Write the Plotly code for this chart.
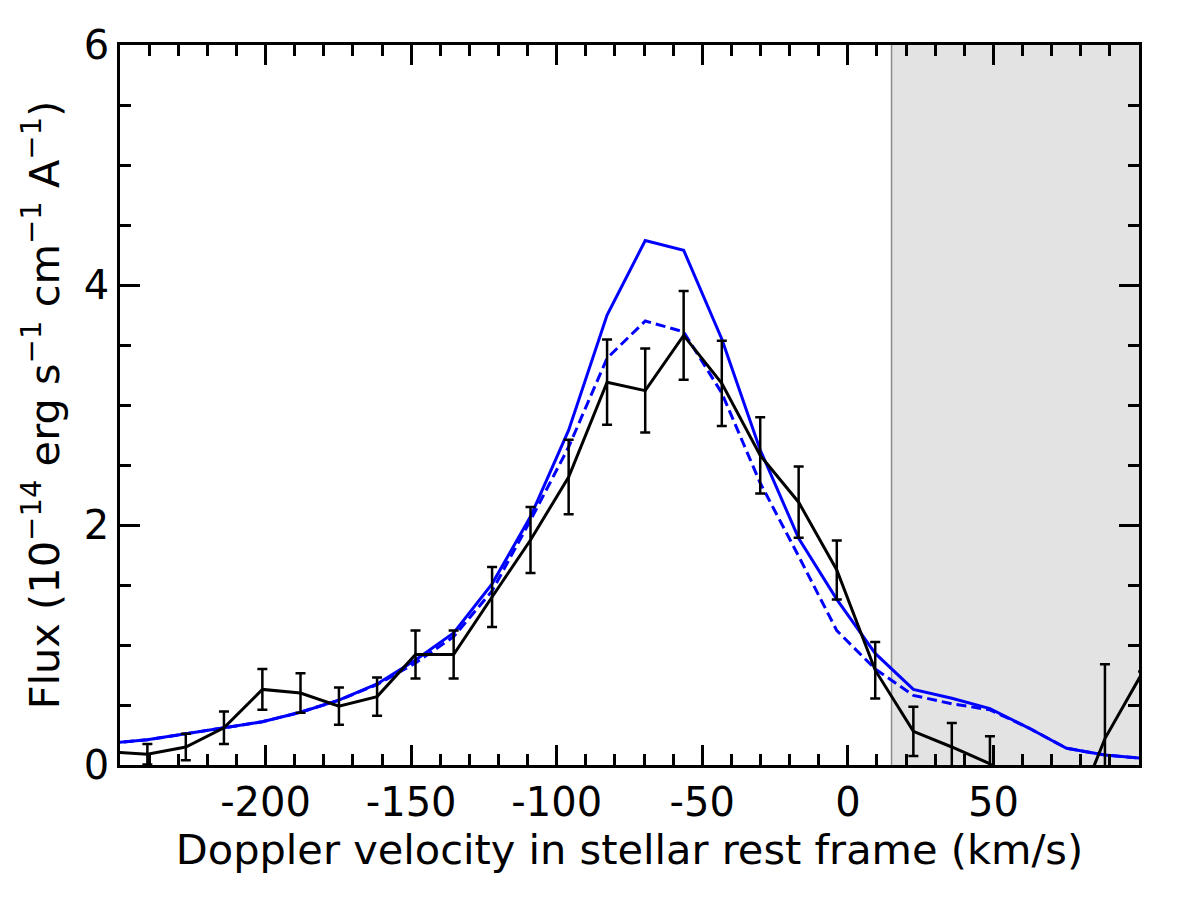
import plotly.graph_objects as go

# ---- data ----
velocity = [-253.8, -240.6, -227.4, -214.3, -201.1, -188.0, -174.8, -161.7, -148.5, -135.4,
            -122.2, -109.0, -95.9, -82.7, -69.6, -56.4, -43.3, -30.1, -16.9, -3.8,
            9.4, 22.5, 35.7, 48.8, 62.0, 75.1, 88.3, 101.4]
flux_obs = [0.11, 0.09, 0.15, 0.31, 0.63, 0.60, 0.49, 0.57, 0.92, 0.92,
            1.40, 1.875, 2.40, 3.19, 3.12, 3.58, 3.18, 2.58, 2.19, 1.625,
            0.79, 0.28, 0.15, 0.01, -0.35, -0.58, 0.22, 0.78]
flux_err = [0.0, 0.085, 0.11, 0.135, 0.17, 0.165, 0.155, 0.16, 0.2, 0.2,
            0.25, 0.275, 0.31, 0.355, 0.35, 0.37, 0.355, 0.317, 0.297, 0.245,
            0.236, 0.205, 0.2, 0.23, 0.3, 0.4, 0.62, 0.0]
model_solid = [0.18, 0.21, 0.26, 0.31, 0.36, 0.44, 0.54, 0.675, 0.875, 1.10,
               1.51, 2.07, 2.79, 3.75, 4.37, 4.29, 3.55, 2.625, 1.89, 1.38,
               0.93, 0.63, 0.556, 0.47, 0.31, 0.14, 0.083, 0.055]
model_dashed = [0.18, 0.21, 0.26, 0.31, 0.36, 0.44, 0.54, 0.67, 0.85, 1.07,
                1.45, 2.04, 2.65, 3.39, 3.70, 3.61, 3.10, 2.35, 1.74, 1.12,
                0.80, 0.58, 0.51, 0.46, 0.31, 0.14, 0.083, 0.055]

x_ticks = [-200, -150, -100, -50, 0, 50]
y_ticks = [0, 2, 4, 6]
x_range = [-250, 100]
y_range = [0, 6]
shade_start = 15

FONT = "DejaVu Sans"

fig = go.Figure()

fig.add_shape(type="rect", xref="x", yref="y", x0=shade_start, x1=x_range[1],
              y0=y_range[0], y1=y_range[1], fillcolor="#e3e3e3",
              line=dict(width=0), layer="below")
fig.add_shape(type="line", xref="x", yref="y", x0=shade_start, x1=shade_start,
              y0=y_range[0], y1=y_range[1], line=dict(color="#8c8c8c", width=1.5),
              layer="below")

fig.add_trace(go.Scatter(x=velocity, y=model_dashed, mode="lines",
                         line=dict(color="#0000ff", width=3, dash="10px,5px"),
                         showlegend=False))
fig.add_trace(go.Scatter(x=velocity, y=model_solid, mode="lines",
                         line=dict(color="#0000ff", width=3),
                         showlegend=False))
fig.add_trace(go.Scatter(x=velocity, y=flux_obs, mode="lines",
                         line=dict(color="black", width=3),
                         error_y=dict(type="data", array=flux_err, visible=True,
                                      color="black", thickness=2.5, width=5),
                         showlegend=False))

axis_common = dict(
    showline=True, linecolor="black", linewidth=2.5, mirror="ticks",
    ticks="inside", ticklen=20, tickwidth=2.5, tickcolor="black",
    showgrid=False, zeroline=False,
    tickfont=dict(family=FONT, size=40, color="black"),
)

fig.update_xaxes(range=x_range, tickvals=x_ticks, ticktext=[str(v) for v in x_ticks],
                 minor=dict(ticks="inside", ticklen=11, tickwidth=2.5, dtick=10,
                            tick0=0, tickcolor="black", showgrid=False),
                 title=dict(text="Doppler velocity in stellar rest frame (km/s)",
                            font=dict(family=FONT, size=41.5, color="black"), standoff=8),
                 **axis_common)
fig.update_yaxes(range=y_range, tickvals=y_ticks,
                 minor=dict(ticks="inside", ticklen=11, tickwidth=2.5, dtick=0.5,
                            tick0=0, tickcolor="black", showgrid=False),
                 title=dict(text="Flux (10<sup>−14</sup> erg s<sup>−1</sup> cm<sup>−1</sup> A<sup>−1</sup>)",
                            font=dict(family=FONT, size=41.5, color="black"), standoff=12),
                 **axis_common)

fig.update_layout(width=1200, height=900,
                  margin=dict(l=120, r=61, t=45, b=135),
                  plot_bgcolor="white", paper_bgcolor="white",
                  font=dict(family=FONT, color="black"))

fig.write_html("out.html")
